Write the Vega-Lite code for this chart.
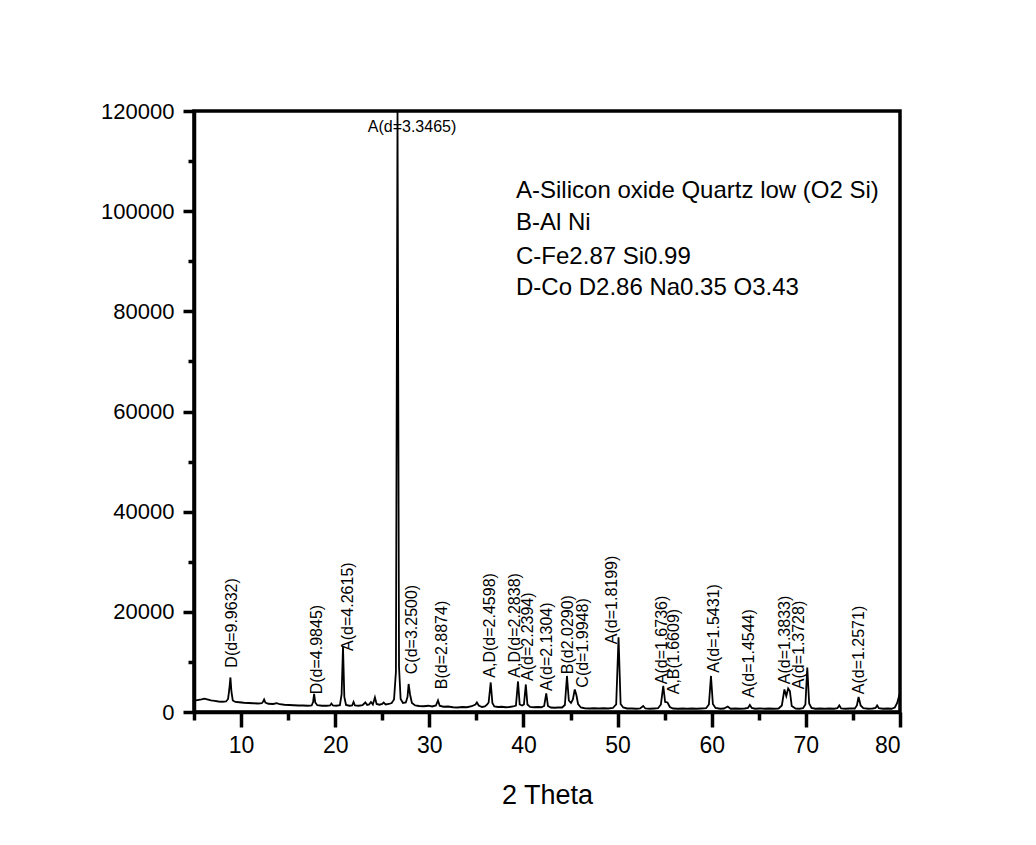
{
  "$schema": "https://vega.github.io/schema/vega-lite/v6.json",
  "autosize": {"type": "none"},
  "padding": {"left": 194, "top": 111, "right": 136, "bottom": 133},
  "width": 706,
  "height": 601,
  "background": "white",
  "config": {
    "font": "Liberation Sans",
    "view": {"stroke": "black", "strokeWidth": 3.5},
    "axis": {"grid": false, "domainColor": "black", "domainWidth": 3.5, "tickColor": "black", "tickWidth": 3, "labelColor": "black", "titleColor": "black", "labelFont": "Liberation Sans", "titleFont": "Liberation Sans"}
  },
  "datasets": {
    "curve": [
      {"theta": 5.2, "intensity": 2300}, {"theta": 5.5, "intensity": 2400}, {"theta": 5.8, "intensity": 2500}, {"theta": 6.1, "intensity": 2650}, {"theta": 6.4, "intensity": 2500}, {"theta": 6.8, "intensity": 2300}, {"theta": 7.2, "intensity": 2200}, {"theta": 7.6, "intensity": 2100}, {"theta": 8.0, "intensity": 2050}, {"theta": 8.4, "intensity": 2100}, {"theta": 8.62, "intensity": 2600}, {"theta": 8.75, "intensity": 4500}, {"theta": 8.87, "intensity": 6900}, {"theta": 8.98, "intensity": 4000}, {"theta": 9.12, "intensity": 2300}, {"theta": 9.4, "intensity": 2000}, {"theta": 9.8, "intensity": 1950}, {"theta": 10.3, "intensity": 1850}, {"theta": 10.8, "intensity": 1800}, {"theta": 11.3, "intensity": 1750}, {"theta": 11.8, "intensity": 1700}, {"theta": 12.2, "intensity": 1750}, {"theta": 12.35, "intensity": 2100}, {"theta": 12.45, "intensity": 2500}, {"theta": 12.58, "intensity": 1900}, {"theta": 12.9, "intensity": 1650}, {"theta": 13.4, "intensity": 1600}, {"theta": 13.8, "intensity": 1750}, {"theta": 14.1, "intensity": 1550}, {"theta": 14.6, "intensity": 1450}, {"theta": 15.1, "intensity": 1400}, {"theta": 15.6, "intensity": 1350}, {"theta": 16.1, "intensity": 1300}, {"theta": 16.6, "intensity": 1300}, {"theta": 17.1, "intensity": 1250}, {"theta": 17.5, "intensity": 1300}, {"theta": 17.65, "intensity": 2000}, {"theta": 17.76, "intensity": 3600}, {"theta": 17.88, "intensity": 1900}, {"theta": 18.1, "intensity": 1350}, {"theta": 18.6, "intensity": 1250}, {"theta": 19.1, "intensity": 1250}, {"theta": 19.45, "intensity": 1300}, {"theta": 19.6, "intensity": 1700}, {"theta": 19.75, "intensity": 1300}, {"theta": 20.1, "intensity": 1250}, {"theta": 20.5, "intensity": 1350}, {"theta": 20.68, "intensity": 3500}, {"theta": 20.83, "intensity": 13000}, {"theta": 20.97, "intensity": 3000}, {"theta": 21.15, "intensity": 1400}, {"theta": 21.5, "intensity": 1250}, {"theta": 21.8, "intensity": 1300}, {"theta": 21.95, "intensity": 2000}, {"theta": 22.1, "intensity": 1300}, {"theta": 22.5, "intensity": 1250}, {"theta": 22.9, "intensity": 1350}, {"theta": 23.2, "intensity": 1900}, {"theta": 23.4, "intensity": 1400}, {"theta": 23.6, "intensity": 1500}, {"theta": 23.8, "intensity": 2000}, {"theta": 24.0, "intensity": 1500}, {"theta": 24.22, "intensity": 2900}, {"theta": 24.4, "intensity": 1600}, {"theta": 24.7, "intensity": 1450}, {"theta": 25.0, "intensity": 1600}, {"theta": 25.15, "intensity": 1900}, {"theta": 25.35, "intensity": 1500}, {"theta": 25.7, "intensity": 1600}, {"theta": 26.0, "intensity": 1800}, {"theta": 26.25, "intensity": 2500}, {"theta": 26.45, "intensity": 8000}, {"theta": 26.62, "intensity": 120000}, {"theta": 26.78, "intensity": 9000}, {"theta": 26.95, "intensity": 2600}, {"theta": 27.2, "intensity": 1800}, {"theta": 27.5, "intensity": 1900}, {"theta": 27.68, "intensity": 3000}, {"theta": 27.8, "intensity": 5600}, {"theta": 27.95, "intensity": 3500}, {"theta": 28.15, "intensity": 1800}, {"theta": 28.5, "intensity": 1300}, {"theta": 28.9, "intensity": 1200}, {"theta": 29.4, "intensity": 1150}, {"theta": 29.9, "intensity": 1250}, {"theta": 30.3, "intensity": 1100}, {"theta": 30.7, "intensity": 1300}, {"theta": 30.92, "intensity": 2300}, {"theta": 31.1, "intensity": 1250}, {"theta": 31.5, "intensity": 1050}, {"theta": 32.0, "intensity": 1100}, {"theta": 32.5, "intensity": 950}, {"theta": 33.0, "intensity": 900}, {"theta": 33.5, "intensity": 1000}, {"theta": 34.0, "intensity": 950}, {"theta": 34.5, "intensity": 1150}, {"theta": 34.9, "intensity": 1500}, {"theta": 35.05, "intensity": 1900}, {"theta": 35.25, "intensity": 1300}, {"theta": 35.6, "intensity": 1000}, {"theta": 35.9, "intensity": 1100}, {"theta": 36.15, "intensity": 1500}, {"theta": 36.3, "intensity": 1900}, {"theta": 36.52, "intensity": 5900}, {"theta": 36.7, "intensity": 1800}, {"theta": 36.9, "intensity": 1100}, {"theta": 37.3, "intensity": 1000}, {"theta": 37.7, "intensity": 1050}, {"theta": 38.1, "intensity": 950}, {"theta": 38.5, "intensity": 1000}, {"theta": 38.9, "intensity": 1100}, {"theta": 39.2, "intensity": 1300}, {"theta": 39.42, "intensity": 6100}, {"theta": 39.6, "intensity": 1500}, {"theta": 39.85, "intensity": 1300}, {"theta": 40.05, "intensity": 1500}, {"theta": 40.25, "intensity": 5500}, {"theta": 40.42, "intensity": 1500}, {"theta": 40.7, "intensity": 1000}, {"theta": 41.1, "intensity": 950}, {"theta": 41.5, "intensity": 1000}, {"theta": 41.9, "intensity": 950}, {"theta": 42.2, "intensity": 1200}, {"theta": 42.42, "intensity": 3700}, {"theta": 42.6, "intensity": 1200}, {"theta": 42.9, "intensity": 900}, {"theta": 43.3, "intensity": 850}, {"theta": 43.7, "intensity": 900}, {"theta": 44.1, "intensity": 900}, {"theta": 44.4, "intensity": 1400}, {"theta": 44.62, "intensity": 7200}, {"theta": 44.82, "intensity": 2300}, {"theta": 45.05, "intensity": 1800}, {"theta": 45.25, "intensity": 2500}, {"theta": 45.45, "intensity": 4500}, {"theta": 45.62, "intensity": 3400}, {"theta": 45.8, "intensity": 1600}, {"theta": 46.1, "intensity": 900}, {"theta": 46.5, "intensity": 750}, {"theta": 47.0, "intensity": 700}, {"theta": 47.5, "intensity": 750}, {"theta": 48.0, "intensity": 700}, {"theta": 48.5, "intensity": 750}, {"theta": 49.0, "intensity": 700}, {"theta": 49.5, "intensity": 800}, {"theta": 49.85, "intensity": 1500}, {"theta": 50.1, "intensity": 14900}, {"theta": 50.32, "intensity": 1600}, {"theta": 50.6, "intensity": 900}, {"theta": 51.0, "intensity": 700}, {"theta": 51.5, "intensity": 700}, {"theta": 52.0, "intensity": 650}, {"theta": 52.4, "intensity": 700}, {"theta": 52.72, "intensity": 1200}, {"theta": 52.95, "intensity": 700}, {"theta": 53.4, "intensity": 650}, {"theta": 53.9, "intensity": 700}, {"theta": 54.3, "intensity": 750}, {"theta": 54.6, "intensity": 1500}, {"theta": 54.85, "intensity": 5200}, {"theta": 55.05, "intensity": 2000}, {"theta": 55.3, "intensity": 1900}, {"theta": 55.55, "intensity": 1000}, {"theta": 55.9, "intensity": 700}, {"theta": 56.4, "intensity": 650}, {"theta": 56.9, "intensity": 700}, {"theta": 57.4, "intensity": 650}, {"theta": 57.9, "intensity": 700}, {"theta": 58.4, "intensity": 650}, {"theta": 58.9, "intensity": 700}, {"theta": 59.4, "intensity": 750}, {"theta": 59.7, "intensity": 1500}, {"theta": 59.92, "intensity": 7200}, {"theta": 60.12, "intensity": 1600}, {"theta": 60.4, "intensity": 800}, {"theta": 60.9, "intensity": 650}, {"theta": 61.3, "intensity": 700}, {"theta": 61.7, "intensity": 1100}, {"theta": 62.0, "intensity": 650}, {"theta": 62.5, "intensity": 700}, {"theta": 63.0, "intensity": 650}, {"theta": 63.5, "intensity": 700}, {"theta": 63.85, "intensity": 800}, {"theta": 64.05, "intensity": 1400}, {"theta": 64.25, "intensity": 800}, {"theta": 64.6, "intensity": 650}, {"theta": 65.1, "intensity": 700}, {"theta": 65.6, "intensity": 650}, {"theta": 66.1, "intensity": 700}, {"theta": 66.6, "intensity": 650}, {"theta": 67.1, "intensity": 700}, {"theta": 67.45, "intensity": 1300}, {"theta": 67.72, "intensity": 4500}, {"theta": 67.92, "intensity": 3200}, {"theta": 68.12, "intensity": 4700}, {"theta": 68.3, "intensity": 4200}, {"theta": 68.5, "intensity": 1200}, {"theta": 68.9, "intensity": 700}, {"theta": 69.3, "intensity": 650}, {"theta": 69.7, "intensity": 750}, {"theta": 69.95, "intensity": 1500}, {"theta": 70.15, "intensity": 8900}, {"theta": 70.35, "intensity": 1700}, {"theta": 70.6, "intensity": 800}, {"theta": 71.0, "intensity": 650}, {"theta": 71.5, "intensity": 700}, {"theta": 72.0, "intensity": 650}, {"theta": 72.5, "intensity": 700}, {"theta": 73.0, "intensity": 650}, {"theta": 73.35, "intensity": 750}, {"theta": 73.55, "intensity": 1300}, {"theta": 73.75, "intensity": 700}, {"theta": 74.2, "intensity": 650}, {"theta": 74.7, "intensity": 700}, {"theta": 75.2, "intensity": 700}, {"theta": 75.42, "intensity": 1300}, {"theta": 75.6, "intensity": 3000}, {"theta": 75.82, "intensity": 1300}, {"theta": 76.1, "intensity": 750}, {"theta": 76.6, "intensity": 650}, {"theta": 77.1, "intensity": 700}, {"theta": 77.4, "intensity": 800}, {"theta": 77.57, "intensity": 1300}, {"theta": 77.75, "intensity": 750}, {"theta": 78.2, "intensity": 650}, {"theta": 78.7, "intensity": 700}, {"theta": 79.1, "intensity": 650}, {"theta": 79.45, "intensity": 900}, {"theta": 79.7, "intensity": 1800}, {"theta": 79.9, "intensity": 3200}, {"theta": 80.0, "intensity": 3000}
    ],
    "peaks": [
      {"theta": 9.01, "intensity": 8860, "label": "D(d=9.9632)"},
      {"theta": 18.04, "intensity": 3540, "label": "D(d=4.9845)"},
      {"theta": 21.4, "intensity": 12200, "label": "A(d=4.2615)"},
      {"theta": 28.17, "intensity": 7540, "label": "C(d=3.2500)"},
      {"theta": 31.32, "intensity": 4540, "label": "B(d=2.8874)"},
      {"theta": 36.46, "intensity": 6860, "label": "A,D(d=2.4598)"},
      {"theta": 39.11, "intensity": 6860, "label": "A,D(d=2.2838)"},
      {"theta": 40.53, "intensity": 6200, "label": "A(d=2.2394)"},
      {"theta": 42.48, "intensity": 4200, "label": "A(d=2.1304)"},
      {"theta": 44.78, "intensity": 7540, "label": "B(d2.0290)"},
      {"theta": 46.31, "intensity": 4860, "label": "C(d=1.9948)"},
      {"theta": 49.39, "intensity": 13540, "label": "A(d=1.8199)"},
      {"theta": 54.7, "intensity": 5540, "label": "A(d=1.6736)"},
      {"theta": 55.94, "intensity": 3540, "label": "A,B(1.6609)"},
      {"theta": 60.19, "intensity": 7860, "label": "A(d=1.5431)"},
      {"theta": 63.91, "intensity": 2860, "label": "A(d=1.4544)"},
      {"theta": 67.81, "intensity": 5540, "label": "A(d=1.3833)"},
      {"theta": 69.22, "intensity": 4540, "label": "A(d=1.3728)"},
      {"theta": 75.6, "intensity": 3540, "label": "A(d=1.2571)"}
    ],
    "toplabel": [
      {"theta": 28.16, "intensity": 116800, "label": "A(d=3.3465)"}
    ],
    "legend": [
      {"theta": 39.21, "intensity": 102540, "label": "A-Silicon oxide Quartz low (O2 Si)"},
      {"theta": 39.21, "intensity": 96200, "label": "B-Al Ni"},
      {"theta": 39.21, "intensity": 89540, "label": "C-Fe2.87 Si0.99"},
      {"theta": 39.21, "intensity": 83200, "label": "D-Co D2.86 Na0.35 O3.43"}
    ]
  },
  "resolve": {"axis": {"x": "independent", "y": "independent"}},
  "layer": [
    {
      "data": {"name": "curve"},
      "mark": {"type": "line", "color": "black", "strokeWidth": 1.8, "clip": true},
      "encoding": {
        "x": {"field": "theta", "type": "quantitative", "scale": {"domain": [5, 80], "nice": false, "zero": false},
          "axis": {"orient": "bottom", "values": [10, 20, 30, 40, 50, 60, 70, 80], "tickSize": 15, "tickWidth": 3.5, "labelFontSize": 23, "labelPadding": 7, "title": "2 Theta", "titleFontSize": 27, "titleFontWeight": "normal", "titlePadding": 25}},
        "y": {"field": "intensity", "type": "quantitative", "scale": {"domain": [0, 120000], "nice": false},
          "axis": {"orient": "left", "values": [0, 20000, 40000, 60000, 80000, 100000, 120000], "format": "d", "tickSize": 11, "tickWidth": 3.5, "labelFontSize": 22, "labelPadding": 9, "title": null}}
      }
    },
    {
      "data": {"name": "peaks"},
      "mark": {"type": "text", "angle": 270, "align": "left", "baseline": "middle", "fontSize": 16, "color": "black"},
      "encoding": {
        "x": {"field": "theta", "type": "quantitative", "axis": null},
        "y": {"field": "intensity", "type": "quantitative", "axis": null},
        "text": {"field": "label"}
      }
    },
    {
      "data": {"name": "toplabel"},
      "mark": {"type": "text", "align": "center", "baseline": "middle", "fontSize": 16, "color": "black"},
      "encoding": {
        "x": {"field": "theta", "type": "quantitative", "axis": null},
        "y": {"field": "intensity", "type": "quantitative", "axis": null},
        "text": {"field": "label"}
      }
    },
    {
      "data": {"name": "legend"},
      "mark": {"type": "text", "align": "left", "baseline": "alphabetic", "fontSize": 24, "color": "black"},
      "encoding": {
        "x": {"field": "theta", "type": "quantitative",
          "axis": {"orient": "bottom", "values": [5, 15, 25, 35, 45, 55, 65, 75], "tickSize": 8, "tickWidth": 3.5, "labels": false, "domain": false, "title": null}},
        "y": {"field": "intensity", "type": "quantitative",
          "axis": {"orient": "left", "values": [10000, 30000, 50000, 70000, 90000, 110000], "tickSize": 6, "tickWidth": 3.5, "labels": false, "domain": false, "title": null}},
        "text": {"field": "label"}
      }
    }
  ]
}
